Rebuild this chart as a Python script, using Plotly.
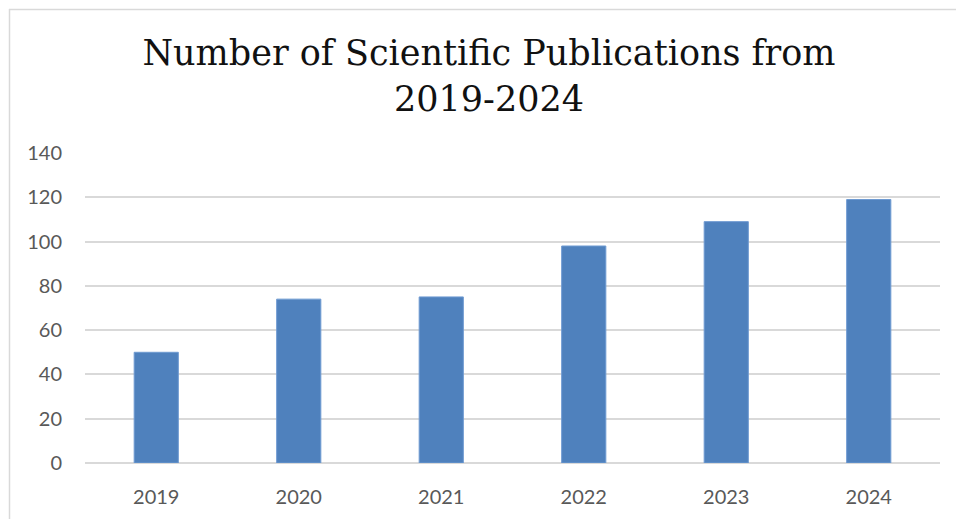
import plotly.graph_objects as go

years = ["2019", "2020", "2021", "2022", "2023", "2024"]
publications = [50, 74, 75, 98, 109, 119]
y_ticks = [0, 20, 40, 60, 80, 100, 120, 140]

fig = go.Figure()
fig.add_trace(go.Bar(
    x=years, y=publications,
    marker=dict(color="#4f81bd", line=dict(color="#6f9bd2", width=1)),
))

L, R, T, B = 85, 16, 153, 56
W, H = 956, 519
pw, ph = W - L - R, H - T - B

def px(x):
    return (x - L) / pw

def py(y):
    return (H - B - y) / ph

tick_font = dict(family="Lato, Liberation Sans", size=20, color="#595959")

fig.update_layout(
    width=W, height=H,
    margin=dict(l=L, r=R, t=T, b=B),
    paper_bgcolor="white", plot_bgcolor="white",
    bargap=0.69,
    showlegend=False,
    title=dict(
        text="Number of Scientific Publications from<br>2019-2024",
        font=dict(family="DejaVu Serif", size=35, color="#111111"),
        x=489 / W, xanchor="center", xref="container",
        y=1 - 65 / H, yanchor="top",
    ),
    xaxis=dict(
        showgrid=False, showline=False, zeroline=False,
        ticks="outside", ticklen=16, tickcolor="rgba(0,0,0,0)",
        tickfont=tick_font,
    ),
    yaxis=dict(
        range=[0, 140], tickvals=y_ticks,
        showgrid=True, gridcolor="#d9d9d9", gridwidth=1.5,
        zeroline=True, zerolinecolor="#d9d9d9", zerolinewidth=2,
        showline=False,
        ticks="outside", ticklen=18, tickcolor="rgba(0,0,0,0)",
        tickfont=tick_font,
    ),
    shapes=[
        dict(type="line", xref="paper", yref="paper",
             x0=px(9), x1=px(956), y0=py(9.5), y1=py(9.5),
             line=dict(color="#d9d9d9", width=1.5)),
        dict(type="line", xref="paper", yref="paper",
             x0=px(9.5), x1=px(9.5), y0=py(9), y1=py(519),
             line=dict(color="#d9d9d9", width=1.5)),
    ],
)

fig.write_html(
    "out.html",
    config={"displayModeBar": False},
    post_script="document.body.style.margin='0px';document.body.style.overflow='hidden';",
)
